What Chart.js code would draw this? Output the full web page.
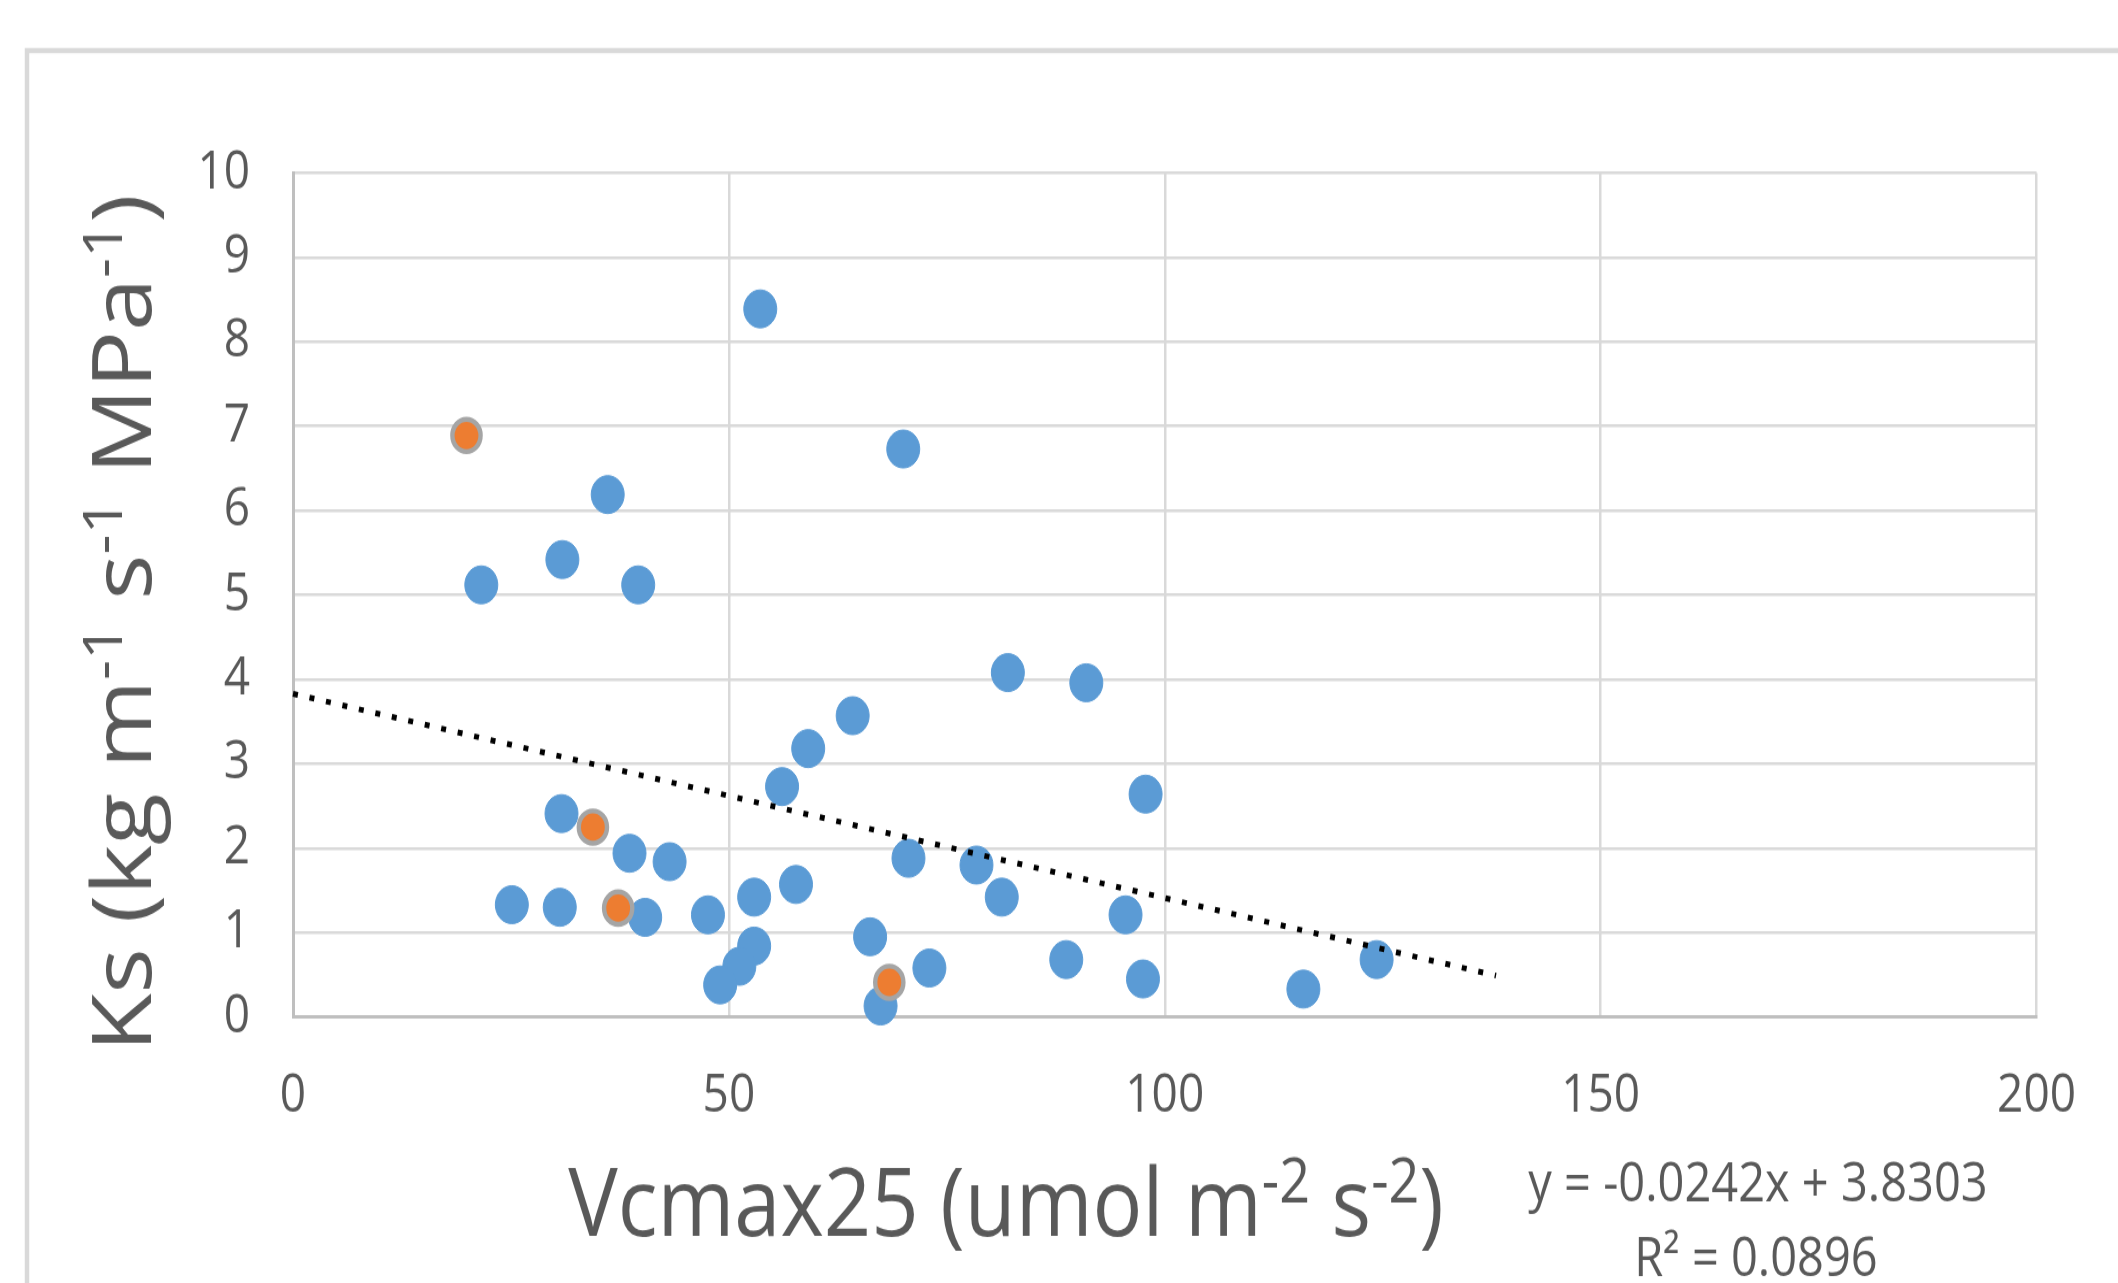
<!DOCTYPE html>
<html>
<head>
<meta charset="utf-8">
<script src="https://cdn.jsdelivr.net/npm/chart.js@4"></script>
<style>
  html { overflow: hidden; }
  body { margin: 0; padding: 0; background: #fff; height: 1283px; }
  /* the source picture is stretched a bit vertically, so draw at 2118x1116 and stretch */
  #ks-chart { display: block; transform: scaleY(1.1496); transform-origin: 0 0; }
</style>
</head>
<body>
<canvas id="ks-chart" width="2118" height="1116"></canvas>
<script>
const blueVcmax = [53.6, 70.0, 36.1, 30.9, 21.6, 39.6, 82.0, 91.0, 64.2, 59.1, 56.1, 97.8,
  30.8, 38.6, 43.2, 70.6, 78.4, 25.1, 30.6, 40.4, 47.6, 52.9, 57.7, 81.3, 95.5, 66.2,
  52.9, 51.2, 49.0, 73.0, 88.7, 97.5, 115.9, 124.3, 67.4];
const blueKs = [8.39, 6.73, 6.19, 5.42, 5.12, 5.12, 4.08, 3.96, 3.57, 3.18, 2.73, 2.64,
  2.41, 1.94, 1.84, 1.88, 1.80, 1.33, 1.30, 1.18, 1.21, 1.42, 1.57, 1.42, 1.21, 0.95,
  0.84, 0.60, 0.38, 0.58, 0.68, 0.45, 0.33, 0.68, 0.13];

const orangeVcmax = [19.9, 34.4, 37.3, 68.4];
const orangeKs = [6.89, 2.25, 1.29, 0.41];

// linear trendline ends, as drawn
const trendVcmax = [0, 138];
const trendKs = [3.83, 0.49];

const xTicks = [0, 50, 100, 150, 200];
const yTicks = [0, 1, 2, 3, 4, 5, 6, 7, 8, 9, 10];

const equationText = "y = -0.0242x + 3.8303";
const rSquaredText = "R\u00B2 = 0.0896";

// [text, superscript?]
const xTitleParts = [["Vcmax25 (umol m", 0], ["-2", 1], [" s", 0], ["-2", 1], [")", 0]];
const yTitleParts = [["Ks (kg m", 0], ["-1", 1], [" s", 0], ["-1", 1], [" MPa", 0], ["-1", 1], [")", 0]];

const FONT = '"Open Sans", "Liberation Sans", sans-serif';
const TEXT_COLOR = "#595959";

const toPoints = (xs, ys) => xs.map((x, i) => ({ x: x, y: ys[i] }));

const drawRich = (ctx, parts, size) => {
  const supSize = size * 0.65;
  const widthOf = ([t, sup]) => {
    ctx.font = `${sup ? supSize : size}px ${FONT}`;
    return ctx.measureText(t).width;
  };
  const total = parts.reduce((s, p) => s + widthOf(p), 0);
  let x = -total / 2;
  parts.forEach((p) => {
    const w = widthOf(p);
    ctx.fillText(p[0], x, p[1] ? -size * 0.35 : 0);
    x += w;
  });
};

const decorations = {
  id: "decorations",
  beforeDraw(chart) {
    const ctx = chart.ctx;
    ctx.save();
    ctx.strokeStyle = "#d9d9d9";
    ctx.lineWidth = 4.5;
    ctx.strokeRect(27, 44, 2300, 1300);
    ctx.restore();
  },
  afterDraw(chart) {
    const ctx = chart.ctx;
    ctx.save();
    ctx.fillStyle = TEXT_COLOR;
    ctx.textAlign = "left";
    ctx.textBaseline = "alphabetic";

    ctx.save();
    ctx.translate(1006, 1075);
    drawRich(ctx, xTitleParts, 83);
    ctx.restore();

    ctx.save();
    ctx.translate(151, 542);
    ctx.rotate(-Math.PI / 2);
    drawRich(ctx, yTitleParts, 83);
    ctx.restore();

    ctx.font = `47px ${FONT}`;
    ctx.textAlign = "center";
    ctx.fillText(equationText, 1758, 1045);
    ctx.fillText(rSquaredText, 1756, 1110);
    ctx.restore();
  },
};

window.onload = () => {
  const ctx = document.getElementById("ks-chart").getContext("2d");
  new Chart(ctx, {
    type: "scatter",
    data: {
      datasets: [
        {
          label: "Trend",
          data: toPoints(trendVcmax, trendKs),
          showLine: true,
          borderColor: "#000000",
          borderWidth: 5,
          borderDash: [5, 11.8],
          borderCapStyle: "butt",
          pointRadius: 0,
          clip: false,
          order: 0,
        },
        {
          label: "Highlighted",
          data: toPoints(orangeVcmax, orangeKs),
          backgroundColor: "#ED7D31",
          borderColor: "#a5a5a5",
          borderWidth: 4.4,
          pointRadius: 14.1,
          clip: false,
          order: 1,
        },
        {
          label: "Ks",
          data: toPoints(blueVcmax, blueKs),
          backgroundColor: "#5B9BD5",
          borderColor: "#5B9BD5",
          borderWidth: 1,
          pointRadius: 16.5,
          clip: false,
          order: 2,
        },
      ],
    },
    options: {
      responsive: false,
      animation: false,
      devicePixelRatio: 1,
      layout: { padding: { top: 150.5, right: 80, left: 0, bottom: 0 } },
      plugins: {
        legend: { display: false },
        tooltip: { enabled: false },
      },
      scales: {
        x: {
          type: "linear",
          min: xTicks[0],
          max: xTicks[xTicks.length - 1],
          afterBuildTicks: (scale) => { scale.ticks = xTicks.map((v) => ({ value: v })); },
          afterFit: (scale) => { scale.height = 231.4; },
          ticks: {
            color: TEXT_COLOR,
            padding: 42,
            font: { family: FONT, size: 46 },
          },
          grid: { color: "#d9d9d9", lineWidth: 2.5, drawTicks: false },
          border: { color: "#bfbfbf", width: 3 },
        },
        y: {
          min: yTicks[0],
          max: yTicks[yTicks.length - 1],
          afterBuildTicks: (scale) => { scale.ticks = yTicks.map((v) => ({ value: v })); },
          afterFit: (scale) => { scale.width = 293; },
          ticks: {
            color: TEXT_COLOR,
            padding: 43,
            font: { family: FONT, size: 46 },
          },
          grid: { color: "#d9d9d9", lineWidth: 2.5, drawTicks: false },
          border: { color: "#bfbfbf", width: 3 },
        },
      },
    },
    plugins: [decorations],
  });
};
</script>
</body>
</html>
